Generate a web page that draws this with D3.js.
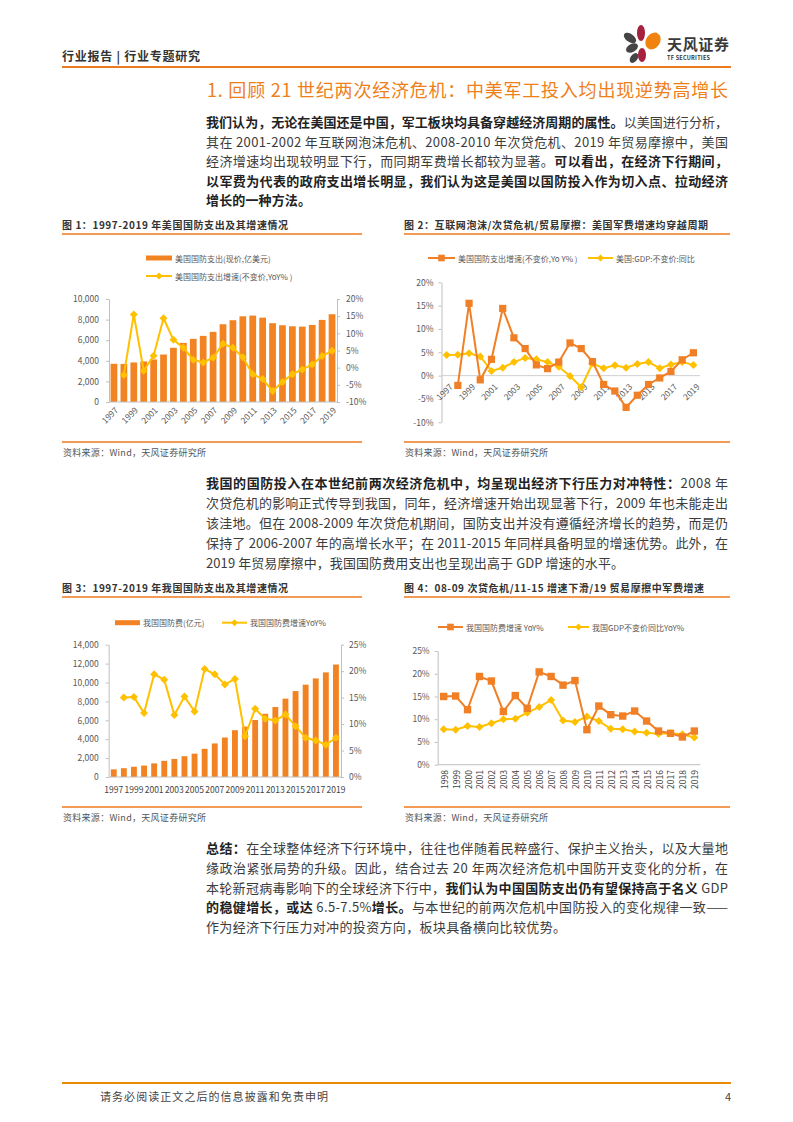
<!DOCTYPE html>
<html><head><meta charset="utf-8">
<script src="https://cdn.jsdelivr.net/npm/d3@7"></script>
<style>body{margin:0;background:#fff} svg{display:block}</style>
</head><body>
<svg id="page" width="793" height="1122"></svg>
<script>
// ---------- DATA ----------
const years = ["1997","1998","1999","2000","2001","2002","2003","2004","2005","2006","2007","2008","2009","2010","2011","2012","2013","2014","2015","2016","2017","2018","2019"];
const years4 = years.slice(1);
const usSpend = [3710,3700,3840,3940,4130,4610,5260,5740,6130,6420,6810,7550,7940,8320,8390,8190,7650,7450,7350,7320,7480,7970,8520];
const usSpendYoY = [null,-2.1,15.5,-0.9,3.5,14.4,8.1,5.8,2.3,1.5,2.9,7.0,5.8,3.0,-1.9,-3.3,-6.8,-4.2,-1.9,-0.5,0.9,3.4,4.9];
const usGdpYoY = [4.4,4.5,4.8,4.1,1.0,1.7,2.9,3.8,3.5,2.9,1.9,-0.1,-2.5,2.6,1.6,2.2,1.7,2.5,2.9,1.6,2.4,2.9,2.3];
const cnSpend = [810,930,1080,1210,1440,1710,1910,2200,2470,2980,3550,4180,4950,5330,6030,6690,7410,8290,9090,9770,10430,11070,11900];
const cnSpendYoY = [null,15.0,15.1,12.1,19.4,18.4,11.7,15.2,12.4,20.4,19.4,17.5,18.5,7.7,12.9,11.0,10.7,11.8,9.6,7.4,6.9,6.1,7.4];
const cnGdpYoY = [7.8,7.7,8.5,8.3,9.1,10.0,10.1,11.4,12.7,14.2,9.7,9.4,10.6,9.6,7.9,7.8,7.3,7.0,6.8,6.9,6.7,6.0];
const tickUsL = [0,2000,4000,6000,8000,10000];
const tickUsR = [-10,-5,0,5,10,15,20];
const tickCnL = [0,2000,4000,6000,8000,10000,12000,14000];
const tickCnR = [0,5,10,15,20,25];
const oddYears = ["1997","1999","2001","2003","2005","2007","2009","2011","2013","2015","2017","2019"];

// ---------- STYLE ----------
const ORANGE = "#F28322", YELLOW = "#FFC000", LINEOR = "#F07F25";
const AX = "#BFBFBF", LBL = "#595959", TXT = "#3c3c3c";
const FONT = "'Noto Sans CJK SC','Noto Sans',sans-serif";

const svg = d3.select("#page").attr("font-family", FONT);

function tline(x, y, segs, o = {}) {
  const t = svg.append("text").attr("x", x).attr("y", y)
    .attr("dominant-baseline", "central")
    .attr("font-size", o.size || 13).attr("fill", o.fill || TXT);
  if (o.anchor) t.attr("text-anchor", o.anchor);
  segs.forEach(([s, b]) => t.append("tspan").text(s).attr("font-weight", b ? 700 : 400)
      .attr("fill", b ? (o.boldFill || "#222") : null));
  if (o.len) t.attr("textLength", o.len).attr("lengthAdjust", "spacing");
  return t;
}

// ---------- HEADER ----------
tline(62, 55, [["行业报告 | 行业专题研究", true]], {size: 12, len: 138, boldFill: "#333"});
svg.append("line").attr("x1", 62).attr("x2", 731).attr("y1", 67).attr("y2", 67)
  .attr("stroke", "#EC7A1E").attr("stroke-width", 2);
// logo
const lg = svg.append("g");
[[641,33,4,8,0,"#A6213D"],[630,38,4,7,-55,"#454545"],[653,41,7,9,35,"#F0820F"],
 [632,48,4,6.5,-120,"#454545"],[642,55,4,7,0,"#A6213D"],[634,58,3.5,5.5,35,"#454545"]]
 .forEach(([cx,cy,rx,ry,r,c]) => lg.append("ellipse").attr("cx",cx).attr("cy",cy).attr("rx",rx).attr("ry",ry)
   .attr("transform",`rotate(${r},${cx},${cy})`).attr("fill",c));
tline(667, 43, [["天风证券", true]], {size: 15, fill: "#3a3a3a", boldFill: "#3a3a3a", len: 62});
tline(667, 58, [["TF SECURITIES", true]], {size: 5.5, fill: "#3a3a3a", boldFill: "#3a3a3a", len: 43});

// ---------- TITLE ----------
tline(207, 89, [["1. 回顾 21 世纪两次经济危机：中美军工投入均出现逆势高增长", false]],
  {size: 18, fill: "#EE7F1A", len: 521});

// ---------- PARAGRAPHS ----------
const para1 = [
  [[["我们认为，无论在美国还是中国，军工板块均具备穿越经济周期的属性。", true], ["以美国进行分析，", false]], 522],
  [[["其在 2001-2002 年互联网泡沫危机、2008-2010 年次贷危机、2019 年贸易摩擦中，美国", false]], 522],
  [[["经济增速均出现较明显下行，而同期军费增长都较为显著。", false], ["可以看出，在经济下行期间，", true]], 522],
  [[["以军费为代表的政府支出增长明显，我们认为这是美国以国防投入作为切入点、拉动经济", true]], 522],
  [[["增长的一种方法。", true]], 105]
];
para1.forEach(([segs, len], i) => tline(206, 121 + i * 19.6, segs, {len}));

const para2 = [
  [[["我国的国防投入在本世纪前两次经济危机中，均呈现出经济下行压力对冲特性：", true], ["2008 年", false]], 522],
  [[["次贷危机的影响正式传导到我国，同年，经济增速开始出现显著下行，2009 年也未能走出", false]], 522],
  [[["该洼地。但在 2008-2009 年次贷危机期间，国防支出并没有遵循经济增长的趋势，而是仍", false]], 522],
  [[["保持了 2006-2007 年的高增长水平；在 2011-2015 年同样具备明显的增速优势。此外，在", false]], 522],
  [[["2019 年贸易摩擦中，我国国防费用支出也呈现出高于 GDP 增速的水平。", false]], 418]
];
para2.forEach(([segs, len], i) => tline(206, 482 + i * 20, segs, {len}));

const para3 = [
  [[["总结：", true], ["在全球整体经济下行环境中，往往也伴随着民粹盛行、保护主义抬头，以及大量地", false]], 522],
  [[["缘政治紧张局势的升级。因此，结合过去 20 年两次经济危机中国防开支变化的分析，在", false]], 522],
  [[["本轮新冠病毒影响下的全球经济下行中，", false], ["我们认为中国国防支出仍有望保持高于名义", true], [" GDP", false]], 522],
  [[["的稳健增长，或达 ", true], ["6.5-7.5%", false], ["增长。", true], ["与本世纪的前两次危机中国防投入的变化规律一致——", false]], 522],
  [[["作为经济下行压力对冲的投资方向，板块具备横向比较优势。", false]], 360]
];
para3.forEach(([segs, len], i) => tline(206, 847 + i * 19.8, segs, {len}));

// ---------- FIGURE FRAMES ----------
function frame(x1, x2, yT, title, tlen, ySrc) {
  tline(x1, yT, [[title, true]], {size: 10, len: tlen, boldFill: "#333"});
  svg.append("line").attr("x1", x1).attr("x2", x2).attr("y1", yT + 10).attr("y2", yT + 10)
    .attr("stroke", "#EC7A1E").attr("stroke-width", 1.3);
  svg.append("line").attr("x1", x1).attr("x2", x2).attr("y1", ySrc - 10).attr("y2", ySrc - 10)
    .attr("stroke", "#EC7A1E").attr("stroke-width", 1.3);
  tline(x1 + 1, ySrc, [["资料来源：Wind，天风证券研究所", false]], {size: 9, fill: "#555", len: 143});
}
frame(62, 362, 224, "图 1：1997-2019 年美国国防支出及其增速情况", 226, 452);
frame(404, 730, 224, "图 2：互联网泡沫/次贷危机/贸易摩擦：美国军费增速均穿越周期", 304, 452);
frame(62, 362, 587, "图 3：1997-2019 年我国国防支出及其增速情况", 226, 817);
frame(404, 730, 587, "图 4：08-09 次贷危机/11-15 增速下滑/19 贸易摩擦中军费增速", 300, 817);

// ---------- HELPERS ----------
const diamond = (r) => `M0,${-r}L${r},0L0,${r}L${-r},0Z`;
const square = (r) => `M${-r},${-r}H${r}V${r}H${-r}Z`;
function styleAxis(g) {
  g.select(".domain").attr("stroke", AX);
  g.selectAll(".tick line").attr("stroke", AX);
  g.selectAll(".tick text").attr("fill", LBL).attr("font-size", 8.5).attr("font-family", FONT);
}
function drawLine(g, x, y, cats, vals, color, shape, r) {
  const pts = cats.map((c, i) => [c, vals[i]]).filter(d => d[1] != null);
  g.append("path").datum(pts)
    .attr("d", d3.line().x(d => x(d[0]) + x.bandwidth() / 2).y(d => y(d[1])))
    .attr("fill", "none").attr("stroke", color).attr("stroke-width", 2);
  g.selectAll(null).data(pts).join("path")
    .attr("transform", d => `translate(${x(d[0]) + x.bandwidth() / 2},${y(d[1])})`)
    .attr("d", shape(r)).attr("fill", color);
}
function legendLine(g, x1, x2, y, color, shape, r, label) {
  g.append("line").attr("x1", x1).attr("x2", x2).attr("y1", y).attr("y2", y).attr("stroke", color).attr("stroke-width", 2);
  g.append("path").attr("transform", `translate(${(x1 + x2) / 2},${y})`).attr("d", shape(r)).attr("fill", color);
  g.append("text").attr("x", x2 + 3).attr("y", y).attr("dominant-baseline", "central")
    .attr("font-size", 8).attr("fill", LBL).text(label);
}
function legendBar(g, x1, x2, y, color, label) {
  g.append("rect").attr("x", x1).attr("y", y - 2.5).attr("width", x2 - x1).attr("height", 5).attr("fill", color);
  g.append("text").attr("x", x2 + 3).attr("y", y).attr("dominant-baseline", "central")
    .attr("font-size", 8).attr("fill", LBL).text(label);
}

// ---------- CHART 1 ----------
{
  const g = svg.append("g");
  const x = d3.scaleBand().domain(years).range([109, 337]).paddingInner(0.32).paddingOuter(0.16);
  const yL = d3.scaleLinear().domain([0, 10000]).range([402, 299]);
  const yR = d3.scaleLinear().domain([-10, 20]).range([402, 299]);
  g.selectAll(null).data(years).join("rect")
    .attr("x", d => x(d)).attr("width", x.bandwidth())
    .attr("y", (d, i) => yL(usSpend[i])).attr("height", (d, i) => yL(0) - yL(usSpend[i])).attr("fill", ORANGE);
  g.append("line").attr("x1", 109).attr("x2", 337).attr("y1", 402).attr("y2", 402).attr("stroke", AX);
  g.append("g").attr("transform", "translate(109,0)")
    .call(d3.axisLeft(yL).tickValues(tickUsL).tickFormat(d3.format(",")).tickSize(3).tickSizeOuter(0).tickPadding(7)).call(styleAxis);
  g.append("g").attr("transform", "translate(337,0)")
    .call(d3.axisRight(yR).tickValues(tickUsR).tickFormat(d => d + "%").tickSize(3).tickSizeOuter(0).tickPadding(6)).call(styleAxis);
  drawLine(g, x, yR, years, usSpendYoY, YELLOW, diamond, 4);
  g.selectAll(null).data(oddYears).join("text")
    .attr("transform", d => `translate(${x(d) + x.bandwidth() / 2 + 2},${408}) rotate(-45)`)
    .attr("text-anchor", "end").attr("dominant-baseline", "central")
    .attr("font-size", 8.5).attr("fill", LBL).text(d => d);
  legendBar(g, 146, 172, 258, ORANGE, "美国国防支出(现价,亿美元)");
  legendLine(g, 146, 172, 276, YELLOW, diamond, 3.5, "美国国防支出增速(不变价,YoY% )");
}

// ---------- CHART 2 ----------
{
  const g = svg.append("g");
  const x = d3.scaleBand().domain(years).range([441, 699]);
  const y = d3.scaleLinear().domain([-10, 20]).range([422.3, 282.3]);
  g.append("g").attr("transform", "translate(441.5,0)")
    .call(d3.axisLeft(y).tickValues(tickUsR).tickFormat(d => d + "%").tickSize(3).tickSizeOuter(0).tickPadding(5)).call(styleAxis);
  g.append("line").attr("x1", 441.5).attr("x2", 700).attr("y1", y(0)).attr("y2", y(0)).attr("stroke", "#D0D0D0");
  g.selectAll(null).data(oddYears).join("text")
    .attr("transform", d => `translate(${x(d) + x.bandwidth() / 2 + 4},${y(0) + 9}) rotate(-45)`)
    .attr("text-anchor", "end").attr("dominant-baseline", "central")
    .attr("font-size", 8.5).attr("fill", LBL).text(d => d);
  drawLine(g, x, y, years, usGdpYoY, YELLOW, diamond, 4);
  drawLine(g, x, y, years, usSpendYoY, LINEOR, square, 3.6);
  legendLine(g, 428, 455, 258, LINEOR, square, 3.3, "美国国防支出增速(不变价,Yo Y% )");
  legendLine(g, 588, 613, 258, YELLOW, diamond, 3.5, "美国:GDP:不变价:同比");
}

// ---------- CHART 3 ----------
{
  const g = svg.append("g");
  const x = d3.scaleBand().domain(years).range([108.7, 341]).paddingInner(0.42).paddingOuter(0.21);
  const yL = d3.scaleLinear().domain([0, 14000]).range([777, 644.7]);
  const yR = d3.scaleLinear().domain([0, 25]).range([777, 644.7]);
  g.selectAll(null).data(years).join("rect")
    .attr("x", d => x(d)).attr("width", x.bandwidth())
    .attr("y", (d, i) => yL(cnSpend[i])).attr("height", (d, i) => yL(0) - yL(cnSpend[i])).attr("fill", ORANGE);
  g.append("line").attr("x1", 108.7).attr("x2", 341).attr("y1", 777).attr("y2", 777).attr("stroke", AX);
  g.append("g").attr("transform", "translate(108.7,0)")
    .call(d3.axisLeft(yL).tickValues(tickCnL).tickFormat(d3.format(",")).tickSize(3).tickSizeOuter(0).tickPadding(7)).call(styleAxis);
  g.append("g").attr("transform", "translate(341,0)")
    .call(d3.axisRight(yR).tickValues(tickCnR).tickFormat(d => d + "%").tickSize(3).tickSizeOuter(0).tickPadding(5)).call(styleAxis);
  drawLine(g, x, yR, years, cnSpendYoY, YELLOW, diamond, 4);
  g.selectAll(null).data(oddYears).join("text")
    .attr("x", d => x(d) + x.bandwidth() / 2).attr("y", 789)
    .attr("text-anchor", "middle").attr("dominant-baseline", "central")
    .attr("font-size", 8.5).attr("fill", "#444").text(d => d);
  legendBar(g, 115, 140, 622.7, ORANGE, "我国国防费(亿元)");
  legendLine(g, 222, 247, 622.7, YELLOW, diamond, 3.5, "我国国防费增速YoY%");
}

// ---------- CHART 4 ----------
{
  const g = svg.append("g");
  const x = d3.scaleBand().domain(years4).range([437.7, 700.3]);
  const y = d3.scaleLinear().domain([0, 25]).range([764.7, 651]);
  g.append("g").attr("transform", "translate(437.7,0)")
    .call(d3.axisLeft(y).tickValues(tickCnR).tickFormat(d => d + "%").tickSize(3).tickSizeOuter(0).tickPadding(5)).call(styleAxis);
  g.append("line").attr("x1", 437.7).attr("x2", 700.3).attr("y1", 764.7).attr("y2", 764.7).attr("stroke", AX);
  g.selectAll(null).data(years4).join("text")
    .attr("transform", d => `translate(${x(d) + x.bandwidth() / 2},${770}) rotate(-90)`)
    .attr("text-anchor", "end").attr("dominant-baseline", "central")
    .attr("font-size", 8.5).attr("fill", "#444").text(d => d);
  drawLine(g, x, y, years4, cnGdpYoY, YELLOW, diamond, 4);
  drawLine(g, x, y, years4, cnSpendYoY.slice(1), LINEOR, square, 3.7);
  legendLine(g, 438, 463, 627, LINEOR, square, 3.3, "我国国防费增速 YoY%");
  legendLine(g, 568, 589, 627, YELLOW, diamond, 3.5, "我国GDP不变价同比YoY%");
}

// ---------- FOOTER ----------
svg.append("line").attr("x1", 62).attr("x2", 731).attr("y1", 1083).attr("y2", 1083)
  .attr("stroke", "#E98B00").attr("stroke-width", 2);
tline(100, 1096, [["请务必阅读正文之后的信息披露和免责申明", false]], {size: 11, fill: "#444", len: 228});
tline(725, 1096, [["4", false]], {size: 11, fill: "#444"});
</script>
</body></html>
